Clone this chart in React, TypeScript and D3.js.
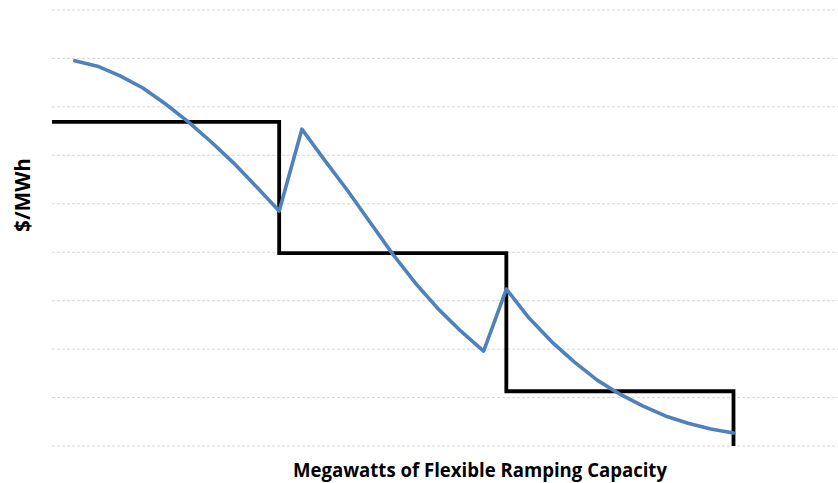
import React from "react";
import * as d3 from "d3";

const gridValues = [0, 1, 2, 3, 4, 5, 6, 7, 8, 9];
const stepX = [0, 10, 10, 20, 20, 30, 30];
const stepY = [6.69, 6.69, 3.98, 3.98, 1.13, 1.13, 0];
const curveX = [1, 2, 3, 4, 5, 6, 7, 8, 9, 10, 11, 12, 13, 14, 15, 16, 17, 18, 19, 20, 21, 22, 23, 24, 25, 26, 27, 28, 29, 30];
const curveY = [7.95, 7.84, 7.64, 7.39, 7.06, 6.69, 6.28, 5.84, 5.35, 4.85, 6.54, 5.9, 5.28, 4.62, 3.96, 3.36, 2.83, 2.37, 1.96, 3.24, 2.64, 2.15, 1.73, 1.36, 1.07, 0.83, 0.62, 0.47, 0.35, 0.27];
const xTitle = "Megawatts of Flexible Ramping Capacity";
const yTitle = "$/MWh";

export default function App() {
  const W = 838, H = 483;
  const x = d3.scaleLinear().domain([0, 34.6]).range([52, 838]);
  const y = d3.scaleLinear().domain([0, 9]).range([446, 10]);
  const stepPts: [number, number][] = stepX.map((v, i) => [x(v), y(stepY[i])]);
  const curvePts: [number, number][] = curveX.map((v, i) => [x(v), y(curveY[i])]);
  const line = d3.line();
  return (
    <svg width={W} height={H} style={{ position: "absolute", left: 0, top: 0, background: "#fff" }}>
      {gridValues.map((g) => (
        <line key={g} x1={52} x2={838} y1={y(g)} y2={y(g)} stroke="#d9d9d9" strokeWidth={1} strokeDasharray="3,2" />
      ))}
      <path d={line(stepPts) || ""} fill="none" stroke="#000" strokeWidth={3.8} strokeLinejoin="miter" />
      <path d={line(curvePts) || ""} fill="none" stroke="#4f81bd" strokeWidth={3.6} strokeLinejoin="round" strokeLinecap="round" />
      <text x={480} y={477} textAnchor="middle" fontFamily="'Open Sans', sans-serif" fontWeight="bold" fontSize={20} textLength={374} lengthAdjust="spacingAndGlyphs" fill="#000">{xTitle}</text>
      <text transform="translate(30,195) rotate(-90)" textAnchor="middle" fontFamily="'Open Sans', sans-serif" fontWeight="bold" fontSize={21} textLength={74} lengthAdjust="spacingAndGlyphs" fill="#000">{yTitle}</text>
    </svg>
  );
}
